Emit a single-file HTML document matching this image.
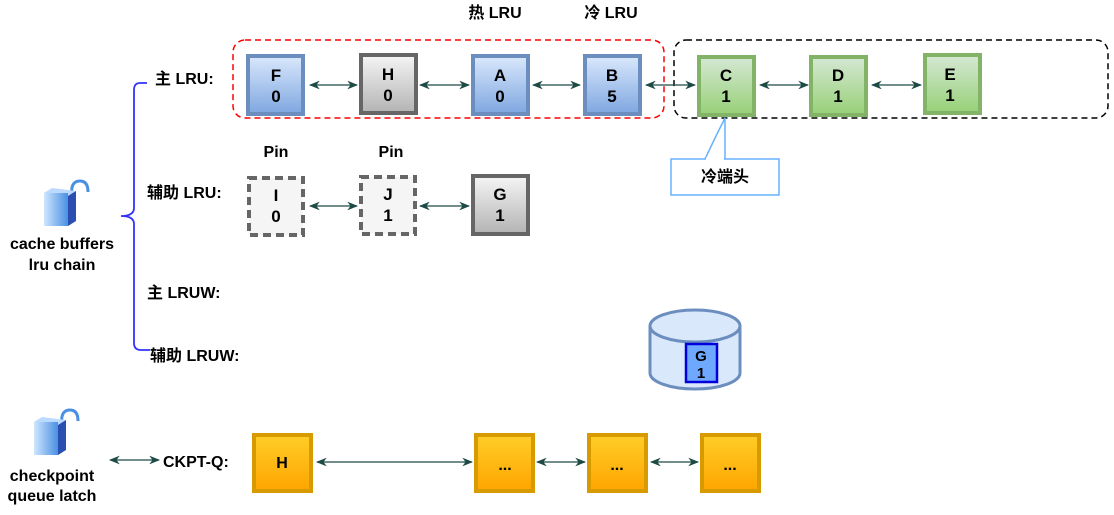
<!DOCTYPE html>
<html><head><meta charset="utf-8"><style>
body{margin:0;background:#fff;}
svg text{font-family:"Liberation Sans","Noto Sans CJK SC",sans-serif;font-weight:bold;}
</style></head><body>
<svg width="1114" height="510" viewBox="0 0 1114 510" xmlns="http://www.w3.org/2000/svg">
<defs>
<linearGradient id="bl" x1="0" y1="0" x2="0" y2="1"><stop offset="0" stop-color="#dae8fc"/><stop offset="1" stop-color="#7ea6e0"/></linearGradient>
<linearGradient id="gr" x1="0" y1="0" x2="0" y2="1"><stop offset="0" stop-color="#f5f5f5"/><stop offset="1" stop-color="#b3b3b3"/></linearGradient>
<linearGradient id="gn" x1="0" y1="0" x2="0" y2="1"><stop offset="0" stop-color="#d5e8d4"/><stop offset="1" stop-color="#97d077"/></linearGradient>
<linearGradient id="or" x1="0" y1="0" x2="0" y2="1"><stop offset="0" stop-color="#ffcd28"/><stop offset="1" stop-color="#ffa500"/></linearGradient>
<linearGradient id="lk" x1="0" y1="0" x2="1" y2="0"><stop offset="0" stop-color="#cfe6ff"/><stop offset="1" stop-color="#4a90e2"/></linearGradient>
<marker id="a" viewBox="0 0 10 10" refX="9" refY="5" markerWidth="9" markerHeight="9" orient="auto-start-reverse"><path d="M0,1 L10,5 L0,9 L3,5z" fill="#1d4a44"/></marker>
</defs>
<g font-size="16" fill="#000">
<text x="495" y="18" text-anchor="middle">热 LRU</text>
<text x="611" y="18" text-anchor="middle">冷 LRU</text>
</g>
<rect x="233" y="40" width="431" height="78" rx="12" fill="none" stroke="#ff0000" stroke-width="1.5" stroke-dasharray="6,4"/>
<rect x="674" y="40" width="434" height="78" rx="12" fill="none" stroke="#000" stroke-width="1.5" stroke-dasharray="6,4"/>
<g stroke="#1d4a44" stroke-width="1.2" marker-start="url(#a)" marker-end="url(#a)">
<line x1="310" y1="85" x2="357" y2="85"/>
<line x1="420" y1="85" x2="469" y2="85"/>
<line x1="533" y1="85" x2="580" y2="85"/>
<line x1="646" y1="85" x2="695" y2="85"/>
<line x1="760" y1="85" x2="808" y2="85"/>
<line x1="872" y1="85" x2="921" y2="85"/>
<line x1="310" y1="206" x2="357" y2="206"/>
<line x1="420" y1="206" x2="469" y2="206"/>
<line x1="110" y1="460" x2="159" y2="460"/>
<line x1="317" y1="462" x2="472" y2="462"/>
<line x1="537" y1="462" x2="585" y2="462"/>
<line x1="651" y1="462" x2="698" y2="462"/>
</g>
<g stroke-width="4">
<rect x="248" y="56" width="55" height="58" fill="url(#bl)" stroke="#6c8ebf"/>
<rect x="361" y="55" width="55" height="58" fill="url(#gr)" stroke="#666"/>
<rect x="473" y="56" width="55" height="58" fill="url(#bl)" stroke="#6c8ebf"/>
<rect x="585" y="56" width="55" height="58" fill="url(#bl)" stroke="#6c8ebf"/>
<rect x="699" y="57" width="55" height="58" fill="url(#gn)" stroke="#82b366"/>
<rect x="811" y="57" width="55" height="58" fill="url(#gn)" stroke="#82b366"/>
<rect x="925" y="55" width="55" height="58" fill="url(#gn)" stroke="#82b366"/>
<rect x="249" y="178" width="54" height="57" fill="#f5f5f5" stroke="#666" stroke-dasharray="8,5"/>
<rect x="361" y="177" width="54" height="57" fill="#f5f5f5" stroke="#666" stroke-dasharray="8,5"/>
<rect x="473" y="176" width="55" height="58" fill="url(#gr)" stroke="#666"/>
<rect x="254" y="435" width="57" height="56" fill="url(#or)" stroke="#d79b00"/>
<rect x="476" y="435" width="57" height="56" fill="url(#or)" stroke="#d79b00"/>
<rect x="589" y="435" width="57" height="56" fill="url(#or)" stroke="#d79b00"/>
<rect x="702" y="435" width="57" height="56" fill="url(#or)" stroke="#d79b00"/>
</g>
<g font-size="17" text-anchor="middle">
<text x="276" y="81">F</text><text x="276" y="102">0</text>
<text x="388" y="80">H</text><text x="388" y="101">0</text>
<text x="500" y="81">A</text><text x="500" y="102">0</text>
<text x="612" y="81">B</text><text x="612" y="102">5</text>
<text x="726" y="81">C</text><text x="726" y="102">1</text>
<text x="838" y="81">D</text><text x="838" y="102">1</text>
<text x="950" y="80">E</text><text x="950" y="101">1</text>
<text x="276" y="201" font-weight="normal">I</text><text x="276" y="222" font-weight="normal">0</text>
<text x="388" y="200" font-weight="normal">J</text><text x="388" y="221" font-weight="normal">1</text>
<text x="500" y="200">G</text><text x="500" y="221">1</text>
</g>
<g font-size="16" text-anchor="middle">
<text x="276" y="157">Pin</text><text x="391" y="157">Pin</text>
<text x="282" y="468">H</text>
<text x="505" y="470">...</text><text x="617" y="470">...</text><text x="730" y="470">...</text>
</g>
<path d="M705,159 L716,136 L725,118 L725,159" fill="#fff" stroke="#66b2ff" stroke-width="1.5"/>
<rect x="671" y="159" width="108" height="36" fill="#fff" stroke="#66b2ff" stroke-width="1.5"/>
<line x1="706" y1="159" x2="724" y2="159" stroke="#fff" stroke-width="3"/>
<text x="725" y="182" font-size="16" text-anchor="middle">冷端头</text>
<path d="M147,83 L140,83 Q134,83 134,90 L134,208 Q134,216 121,216 Q134,216 134,224 L134,343 Q134,350 141,350 L150,350" fill="none" stroke="#3333ff" stroke-width="1.8"/>
<g font-size="16">
<text x="155" y="84">主 LRU:</text>
<text x="147" y="198">辅助 LRU:</text>
<text x="147" y="298">主 LRUW:</text>
<text x="150" y="361">辅助 LRUW:</text>
<text x="163" y="467">CKPT-Q:</text>
</g>
<g font-size="16" text-anchor="middle">
<text x="62" y="249">cache buffers</text><text x="62" y="270">lru chain</text>
<text x="52" y="481">checkpoint</text><text x="52" y="501">queue latch</text>
</g>
<g>
<path d="M72,196 Q70,181 80,181 Q88,181 88,192" fill="none" stroke="#4a90e2" stroke-width="3"/>
<path d="M44,193 L52,188 L76,191 L68,196z" fill="#bcd9ff"/>
<rect x="44" y="193" width="24" height="33" fill="url(#lk)"/>
<path d="M68,196 L76,191 L76,221 L68,226z" fill="#2a4fb0"/>
</g>
<g>
<path d="M62,425 Q60,410 70,410 Q78,410 78,421" fill="none" stroke="#4a90e2" stroke-width="3"/>
<path d="M34,422 L42,417 L66,420 L58,425z" fill="#bcd9ff"/>
<rect x="34" y="422" width="24" height="33" fill="url(#lk)"/>
<path d="M58,425 L66,420 L66,450 L58,455z" fill="#2a4fb0"/>
</g>
<path d="M650,326 L650,373 A45,16 0 0 0 740,373 L740,326" fill="#dae8fc" stroke="#6c8ebf" stroke-width="3"/>
<ellipse cx="695" cy="326" rx="45" ry="16" fill="#dae8fc" stroke="#6c8ebf" stroke-width="3"/>
<rect x="686" y="344" width="31" height="38" fill="#6fa8ff" stroke="#0000dd" stroke-width="2.5"/>
<text x="701" y="361" font-size="15" text-anchor="middle" font-weight="normal">G</text>
<text x="701" y="378" font-size="15" text-anchor="middle" font-weight="normal">1</text>
</svg>
</body></html>
